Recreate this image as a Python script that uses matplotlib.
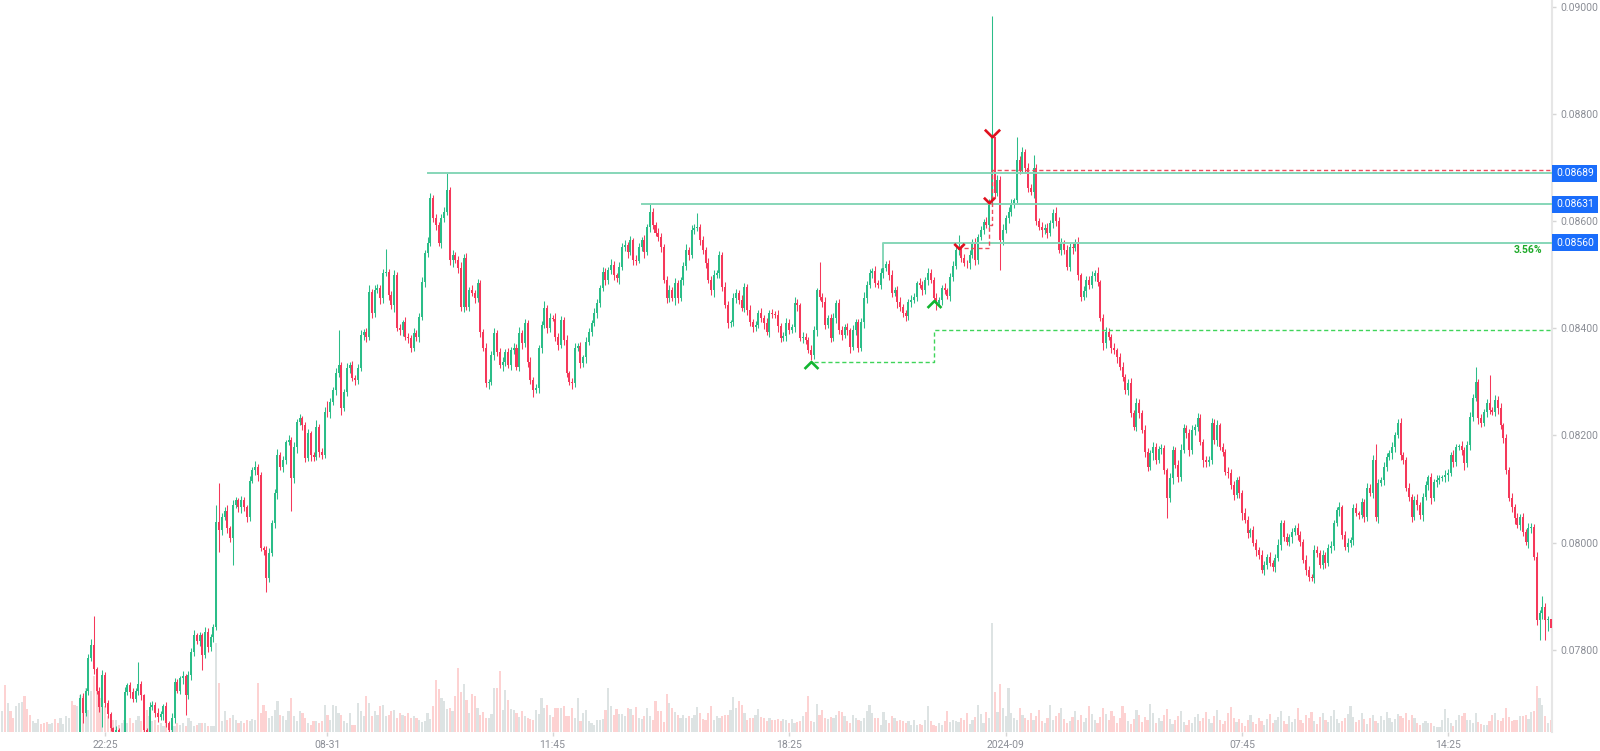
import matplotlib
matplotlib.use("Agg")
import matplotlib.pyplot as plt
from matplotlib.path import Path
from matplotlib.transforms import blended_transform_factory
import numpy as np

plt.rcParams['font.family'] = ['Roboto', 'DejaVu Sans']

# closing prices, in units of 0.00001
closes = [
    7625, 7618, 7630, 7622, 7610, 7615, 7628, 7635, 7620, 7612,
    7605, 7618, 7626, 7631, 7624, 7615, 7609, 7620, 7628, 7622,
    7614, 7618, 7625, 7633, 7640, 7636, 7628, 7642,
    7711, 7683, 7724, 7784, 7809, 7765, 7724, 7693, 7753, 7700,
    7681, 7654, 7640, 7650, 7635, 7640, 7721, 7734, 7721, 7709,
    7724, 7736, 7715, 7650, 7635, 7693, 7697, 7683, 7674, 7680,
    7695, 7663, 7650, 7672, 7740, 7724, 7747, 7751, 7715, 7753,
    7796, 7827, 7816, 7827, 7790, 7833, 7805, 7824, 7842, 8038,
    8023, 8048, 8060, 8027, 8008, 8070, 8079, 8066, 8079, 8066,
    8048, 8116, 8135, 8141, 8126, 7990, 7986, 7934, 7980, 8036,
    8092, 8163, 8141, 8154, 8187, 8191, 8120, 8178, 8225, 8232,
    8219, 8158, 8204, 8163, 8160, 8216, 8169, 8163, 8244, 8243,
    8262, 8284, 8316, 8331, 8251, 8281, 8326, 8331, 8307, 8303,
    8326, 8387, 8393, 8384, 8468, 8428, 8471, 8475, 8456, 8503,
    8505, 8462, 8443, 8499, 8400, 8396, 8411, 8384, 8382, 8363,
    8391, 8384, 8421, 8486, 8540, 8559, 8643, 8606, 8593, 8559,
    8606, 8617, 8658, 8527, 8537, 8527, 8512, 8440, 8531, 8440,
    8471, 8466, 8456, 8484, 8393, 8363, 8298, 8300, 8350, 8391,
    8356, 8331, 8337, 8356, 8331, 8359, 8363, 8328, 8391, 8372,
    8410, 8337, 8303, 8284, 8288, 8363, 8406, 8438, 8400, 8419,
    8418, 8384, 8369, 8415, 8378, 8316, 8300, 8298, 8363, 8367,
    8335, 8346, 8374, 8393, 8410, 8428, 8447, 8475, 8505, 8490,
    8508, 8518, 8499, 8494, 8514, 8552, 8555, 8542, 8564, 8527,
    8526, 8552, 8564, 8542, 8589, 8617, 8593, 8578, 8570, 8552,
    8490, 8456, 8471, 8456, 8484, 8456, 8490, 8516, 8546, 8537,
    8583, 8587, 8589, 8564, 8546, 8522, 8490, 8471, 8499, 8503,
    8537, 8477, 8443, 8410, 8411, 8456, 8466, 8452, 8438, 8477,
    8434, 8411, 8402, 8406, 8428, 8419, 8410, 8393, 8428, 8427,
    8425, 8404, 8382, 8386, 8410, 8396, 8402, 8447, 8443, 8382,
    8384, 8378, 8359, 8350, 8396, 8471, 8458, 8449, 8406, 8419,
    8382, 8419, 8447, 8396, 8387, 8402, 8396, 8365, 8396, 8411,
    8363, 8411, 8456, 8481, 8503, 8507, 8484, 8481, 8503, 8512,
    8520, 8499, 8466, 8471, 8449, 8440, 8428, 8423, 8449, 8452,
    8458, 8484, 8481, 8471, 8490, 8503, 8490, 8456, 8447, 8452,
    8475, 8471, 8460, 8496, 8516, 8546, 8550, 8531, 8522, 8521,
    8537, 8559, 8527, 8570, 8583, 8598, 8593, 8635, 8757, 8652,
    8676, 8564, 8583, 8606, 8617, 8634, 8639, 8714, 8695, 8729,
    8699, 8662, 8654, 8699, 8601, 8589, 8583, 8587, 8578, 8596,
    8615, 8601, 8546, 8559, 8546, 8514, 8552, 8550, 8561, 8499,
    8458, 8469, 8490, 8481, 8497, 8503, 8486, 8419, 8372, 8393,
    8384, 8363, 8359, 8346, 8328, 8309, 8284, 8298, 8242, 8216,
    8260, 8242, 8210, 8169, 8141, 8167, 8178, 8154, 8175, 8176,
    8135, 8083, 8120, 8172, 8145, 8122, 8172, 8214, 8204, 8172,
    8210, 8216, 8233, 8188, 8154, 8150, 8155, 8223, 8191, 8219,
    8178, 8169, 8132, 8130, 8107, 8089, 8117, 8092, 8055, 8042,
    8018, 8023, 7999, 7986, 7977, 7949, 7958, 7973, 7962, 7955,
    7971, 7996, 8036, 8010, 8001, 8011, 8020, 8027, 8014, 8001,
    7968, 7949, 7936, 7934, 7986, 7981, 7958, 7977, 7962, 7990,
    7994, 8036, 8061, 8066, 8014, 7992, 7999, 8005, 8065, 8055,
    8052, 8076, 8048, 8102, 8093, 8154, 8048, 8111, 8117, 8141,
    8160, 8167, 8178, 8201, 8223, 8163, 8154, 8102, 8085, 8048,
    8080, 8070, 8052, 8085, 8107, 8122, 8083, 8113, 8117, 8120,
    8122, 8126, 8130, 8163, 8150, 8178, 8180, 8172, 8148, 8182,
    8234, 8270, 8300, 8232, 8223, 8244, 8260, 8247, 8244, 8266,
    8251, 8219, 8195, 8135, 8083, 8066, 8046, 8033, 8048, 8020,
    8001, 8027, 8029, 7973, 7856, 7869, 7880, 7856, 7858, 7841,
]

# upper / lower wick length beyond the body, same units
wick_up = [
    2, 1, 2, 2, 1, 2, 2, 1, 2, 1, 2, 2, 1, 2, 1, 2, 2, 1, 2, 1,
    2, 2, 1, 2, 1, 2, 1, 2,
    6, 9, 5, 8, 12, 55, 4, 7, 10, 5,
    6, 4, 3, 8, 5, 7, 9, 4, 6, 8,
    5, 41, 6, 3, 4, 9, 7, 5, 8, 6,
    4, 7, 5, 10, 8, 6, 5, 9, 4, 7,
    8, 10, 5, 6, 4, 9, 7, 5, 6, 32,
    73, 8, 6, 10, 4, 9, 7, 5, 8, 6,
    4, 9, 7, 12, 5, 6, 4, 8, 10, 7,
    9, 12, 6, 8, 5, 10, 7, 9, 6, 8,
    5, 7, 9, 4, 6, 12, 5, 8, 10, 20,
    8, 6, 10, 66, 7, 5, 9, 6, 8, 5,
    7, 10, 6, 8, 12, 5, 9, 7, 6, 8,
    43, 5, 7, 9, 6, 8, 5, 10, 7, 6,
    9, 5, 8, 10, 7, 12, 9, 6, 8, 5,
    7, 10, 31, 6, 9, 5, 8, 12, 7, 10,
    6, 9, 5, 8, 7, 6, 10, 5, 8, 9,
    6, 7, 10, 5, 8, 6, 9, 7, 12, 5,
    8, 6, 10, 7, 9, 5, 8, 12, 6, 9,
    5, 10, 7, 8, 6, 9, 5, 7, 10, 6,
    8, 5, 9, 7, 6, 10, 8, 5, 9, 7,
    6, 12, 8, 5, 9, 7, 10, 6, 8, 5,
    9, 7, 6, 10, 5, 14, 8, 6, 9, 7,
    5, 8, 10, 6, 9, 7, 5, 8, 12, 6,
    9, 7, 26, 5, 8, 6, 10, 7, 9, 5,
    8, 6, 10, 7, 5, 9, 8, 6, 10, 7,
    5, 9, 7, 8, 6, 10, 5, 9, 7, 8,
    6, 10, 5, 8, 9, 7, 6, 12, 8, 5,
    9, 7, 6, 10, 8, 5, 53, 7, 9, 6,
    8, 10, 5, 7, 9, 6, 8, 5, 10, 7,
    6, 9, 12, 8, 7, 5, 10, 6, 9, 8,
    5, 7, 10, 6, 8, 9, 5, 7, 6, 10,
    8, 5, 9, 7, 6, 10, 8, 5, 9, 7,
    6, 10, 5, 8, 9, 7, 24, 6, 8, 5,
    9, 7, 10, 6, 8, 5, 9, 7, 226, 0,
    10, 8, 12, 6, 9, 7, 5, 43, 8, 10,
    6, 9, 7, 24, 8, 5, 10, 7, 9, 6,
    8, 12, 6, 9, 5, 10, 7, 8, 6, 9,
    5, 10, 8, 7, 9, 6, 12, 5, 8, 10,
    7, 6, 9, 5, 8, 10, 6, 7, 9, 5,
    10, 8, 6, 9, 7, 5, 10, 8, 6, 9,
    7, 5, 10, 8, 6, 9, 12, 7, 5, 8,
    10, 6, 9, 7, 5, 8, 6, 10, 7, 9,
    5, 8, 6, 10, 7, 9, 5, 8, 6, 10,
    7, 5, 9, 8, 6, 10, 7, 5, 9, 6,
    8, 10, 6, 7, 9, 5, 8, 6, 10, 7,
    5, 9, 8, 6, 10, 7, 5, 9, 6, 8,
    10, 7, 6, 9, 5, 8, 10, 6, 7, 9,
    5, 8, 6, 10, 7, 9, 30, 8, 6, 10,
    7, 5, 9, 6, 8, 10, 7, 5, 9, 6,
    8, 10, 6, 7, 9, 5, 8, 6, 10, 7,
    5, 9, 8, 6, 10, 7, 5, 9, 6, 8,
    10, 7, 28, 6, 9, 5, 8, 53, 6, 10,
    7, 9, 5, 8, 6, 10, 7, 9, 5, 8,
    6, 10, 7, 5, 9, 6, 20, 8, 6, 10,
]

wick_dn = [
    8, 6, 9, 5, 7, 10, 6, 8, 5, 9, 7, 6, 8, 10, 5, 7, 9, 6, 8, 5,
    7, 9, 6, 8, 10, 5, 7, 8,
    9, 20, 6, 8, 5, 10, 7, 9, 37, 6,
    8, 5, 10, 7, 9, 6, 8, 5, 10, 7,
    6, 9, 8, 5, 10, 7, 6, 9, 8, 5,
    10, 7, 6, 9, 8, 5, 7, 10, 37, 6,
    9, 7, 5, 8, 28, 6, 9, 7, 10, 5,
    41, 8, 6, 9, 7, 50, 5, 8, 10, 6,
    9, 7, 5, 8, 10, 6, 9, 26, 7, 5,
    8, 10, 6, 9, 7, 5, 60, 8, 10, 6,
    9, 7, 5, 10, 8, 6, 9, 7, 5, 8,
    10, 6, 9, 7, 12, 5, 8, 10, 6, 9,
    7, 5, 8, 10, 6, 9, 7, 5, 10, 8,
    6, 9, 7, 12, 5, 8, 10, 6, 9, 7,
    5, 8, 10, 6, 9, 7, 5, 8, 10, 6,
    9, 7, 5, 8, 12, 6, 9, 7, 10, 5,
    8, 6, 9, 7, 10, 5, 8, 12, 6, 9,
    7, 5, 10, 8, 6, 9, 7, 5, 8, 10,
    6, 9, 7, 12, 5, 8, 10, 6, 9, 7,
    5, 8, 10, 6, 9, 7, 5, 12, 8, 6,
    9, 7, 10, 5, 8, 6, 9, 7, 5, 10,
    8, 6, 9, 7, 12, 5, 8, 10, 6, 9,
    7, 5, 8, 10, 6, 9, 7, 5, 8, 10,
    6, 9, 7, 5, 12, 8, 6, 9, 7, 10,
    5, 8, 6, 9, 7, 10, 5, 8, 12, 6,
    9, 7, 5, 10, 8, 6, 9, 7, 5, 8,
    10, 6, 9, 7, 5, 8, 12, 6, 9, 7,
    5, 10, 8, 6, 9, 7, 5, 8, 10, 6,
    9, 7, 5, 9, 8, 10, 6, 9, 7, 5,
    8, 6, 10, 7, 9, 5, 8, 12, 6, 9,
    7, 5, 10, 8, 6, 9, 7, 5, 8, 10,
    6, 9, 7, 5, 12, 8, 6, 9, 7, 10,
    5, 8, 6, 9, 7, 10, 5, 4, 12, 6,
    9, 7, 5, 10, 8, 6, 9, 7, 5, 8,
    10, 6, 9, 7, 5, 8, 6, 10, 7, 9,
    5, 56, 8, 6, 9, 7, 10, 5, 8, 6,
    9, 7, 5, 10, 8, 6, 12, 7, 9, 5,
    8, 10, 6, 9, 7, 5, 8, 12, 6, 9,
    7, 5, 10, 8, 6, 9, 7, 5, 12, 8,
    6, 9, 7, 10, 5, 8, 6, 9, 7, 5,
    8, 10, 6, 9, 7, 5, 12, 8, 6, 9,
    7, 37, 8, 10, 6, 9, 7, 5, 8, 10,
    6, 9, 7, 5, 12, 8, 6, 9, 7, 10,
    5, 8, 6, 9, 7, 10, 5, 8, 12, 6,
    9, 7, 5, 10, 8, 6, 9, 7, 5, 8,
    10, 6, 9, 7, 5, 8, 12, 6, 9, 7,
    5, 10, 8, 6, 9, 7, 5, 8, 10, 6,
    9, 7, 5, 12, 8, 6, 9, 7, 10, 5,
    8, 6, 9, 7, 5, 10, 8, 12, 6, 9,
    7, 5, 10, 8, 6, 9, 7, 5, 8, 10,
    6, 9, 7, 12, 5, 8, 10, 6, 9, 7,
    5, 8, 10, 6, 9, 7, 5, 8, 12, 6,
    9, 7, 5, 10, 8, 6, 9, 7, 5, 8,
    10, 6, 9, 7, 5, 8, 12, 6, 9, 7,
    5, 10, 8, 6, 9, 38, 12, 38, 20, 10,
]

volumes = [
    21, 47, 29, 21, 14, 26, 29, 30, 36, 23, 17, 11, 9, 13, 8, 9, 10, 8, 9, 13,
    9, 14, 8, 16, 14, 31, 27, 26, 37, 36, 44, 22, 41, 56, 42, 34, 29, 26, 16, 14,
    12, 12, 7, 9, 12, 9, 14, 9, 12, 16, 11, 17, 22, 16, 11, 12, 7, 9, 6, 9,
    9, 6, 6, 9, 7, 9, 6, 14, 11, 6, 7, 9, 9, 9, 6, 6, 6,
    89, 49, 11, 21, 12, 14, 17, 12, 9, 11, 9, 12, 11, 13, 12, 49, 19, 27, 21, 14,
    16, 22, 31, 17, 16, 12, 21, 34, 16, 11, 21, 19, 14, 9, 7, 11, 11, 9, 11, 27,
    17, 12, 27, 26, 19, 17, 11, 9, 19, 7, 7, 29, 21, 16, 36, 29, 16, 21, 17, 26,
    27, 16, 17, 21, 22, 14, 19,
    17, 16, 19, 14, 16, 14, 12, 10, 11, 19, 13, 26, 52, 43, 34, 31, 23, 24, 21, 36, 64, 40,
    48, 32, 19, 38, 36, 24, 17, 20, 14, 14, 18, 44, 44, 61, 22, 42, 32, 23, 22, 19, 15, 21,
    16, 14, 13, 12, 22, 18, 34, 24, 27, 17, 15, 24, 24, 24, 26, 16, 16, 24, 14, 34, 11, 19,
    22, 11, 9, 7, 12, 12, 13, 22, 44, 26, 17, 23, 18, 18, 16, 24, 23, 17, 25, 14, 13, 16,
    24, 16, 12, 31, 21, 21, 10, 38, 29, 24, 20, 17, 14, 17, 14, 16, 14, 17, 25, 19, 13, 12,
    19, 26, 12, 16, 14, 16, 17, 17, 22, 35, 24, 31, 27, 19, 12, 14, 14, 17, 23, 15, 14, 11,
    14, 12, 12, 13, 11, 13, 12, 9, 13, 9, 10, 11, 16, 20, 36, 11, 10, 28, 17, 22, 14, 13,
    15, 14, 17, 21, 20, 16, 11, 9, 17, 14, 12, 11, 14, 21, 27, 19, 14, 14, 7, 20, 12, 9,
    16, 14, 11, 12, 11, 9, 11, 7, 12, 7, 8, 7, 12, 26, 11, 7, 6, 9, 7, 11, 21, 10,
    12, 11, 10, 14, 12, 19, 8, 12, 15, 27, 18, 9, 20, 14,
    109,
    40, 20, 48, 24, 16, 44, 19, 14, 12, 24, 17, 14, 12,
    19, 12, 16, 22, 11, 9, 14, 27, 12, 16, 19, 24, 13, 9, 11, 15, 21, 12, 17, 10,
    14, 26, 18, 12, 9, 15,
    24, 18, 12, 21, 16, 9, 14, 26, 19, 11, 8, 13, 22, 17, 10, 15, 12, 28, 19, 9,
    14, 11, 17, 23, 13, 8, 12, 16, 21, 10, 7, 12, 9, 15, 18, 11, 14, 20, 13, 9,
    16, 22, 12, 8, 11, 19, 25, 14, 10, 13, 9, 6, 12, 17, 10, 8, 14, 11, 7, 13,
    18, 9, 12, 15, 21, 11, 8, 16, 10, 13, 24, 12, 9, 17, 14, 20, 11, 8, 15, 19,
    12, 10, 16, 22, 13, 9, 11, 14, 18, 26, 15, 10, 12, 19, 13, 8, 14, 17, 11, 9,
    16, 12, 20, 14, 10, 13, 18,
    16, 14, 19, 12, 17, 14, 9, 7, 9, 11, 9, 9, 6, 5, 5, 12, 23, 14, 9, 6,
    12, 17, 16, 19, 12, 12, 9, 19, 10, 8, 7, 7, 11, 17, 19, 12, 11, 14, 24, 15,
    11, 12, 12, 16, 16, 17, 13, 20, 21, 46, 34, 27, 16, 9, 12,
]

price_ticks = [0.078, 0.080, 0.082, 0.084, 0.086, 0.088, 0.090]
time_pos = [37, 117, 198, 283, 361, 446, 520]
time_labels = ['22:25', '08-31', '11:45', '18:25', '2024-09', '07:45', '14:25']

# horizontal levels (price, first candle)
level_prices = [8689, 8631, 8560]
level_start = [153, 230, 317]
level_base = 8515          # foot of the step into the last level
pct_label = '3.56%'
pct_price = 8547

# dashed step lines
red_step_x = [346, 355, 355, 356, 356]
red_step_p = [8549, 8549, 8592, 8592, 8695]
green_step_x = [292, 335, 335]
green_step_p = [8338, 8338, 8396]

# signal markers
sell_idx = [344, 355, 356]
sell_price = [8554, 8639, 8764]
buy_idx = [291, 335]
buy_price = [8331, 8445]

n = len(closes)
print(n, len(wick_up), len(wick_dn), len(volumes))

c = np.array(closes) / 1e5
o = np.r_[c[0], c[:-1]]
hi = np.maximum(o, c) + np.array(wick_up) / 1e5
lo = np.minimum(o, c) - np.array(wick_dn) / 1e5
x = np.arange(n)
up = c >= o

UP, DOWN = '#2bbd88', '#f5385a'
col = np.where(up, UP, DOWN)

fig = plt.figure(figsize=(16, 7.51), dpi=100)
rect = [0, 19 / 751, 1552 / 1600, 732 / 751]
axv = fig.add_axes(rect)
ax = fig.add_axes(rect, sharex=axv)

axv.bar(x, volumes, width=0.78, color=np.where(up, '#dde3e3', '#fdd2d2'), linewidth=0)
axv.set_ylim(0, 732)
axv.axis('off')
ax.patch.set_visible(False)

ax.vlines(x, lo, hi, colors=col, lw=0.75, zorder=2)
ax.bar(x, np.maximum(np.abs(c - o), 1.2e-5), bottom=np.minimum(o, c), width=0.72,
       color=col, linewidth=0, zorder=3)

xmin, xmax = -0.79, 557.48
ax.set_xlim(xmin, xmax)
ax.set_ylim(0.076468, 0.090125)

# levels
for p, s in zip(level_prices, level_start):
    if p == level_prices[-1]:
        ax.plot([s, s, xmax], [level_base / 1e5, p / 1e5, p / 1e5], color='#86d6b8', lw=1.4, zorder=4)
    else:
        ax.plot([s, xmax], [p / 1e5, p / 1e5], color='#86d6b8', lw=1.4, zorder=4)

ax.plot(red_step_x + [xmax], [p / 1e5 for p in red_step_p + [red_step_p[-1]]],
        color='#ee4b5b', lw=1, ls=(0, (3, 2)), zorder=4)
ax.plot(green_step_x + [xmax], [p / 1e5 for p in green_step_p + [green_step_p[-1]]],
        color='#3fd45a', lw=1, ls=(0, (3, 2)), zorder=4)

chev_dn = Path([(-1, 0.5), (0, -0.5), (1, 0.5)], [Path.MOVETO, Path.LINETO, Path.LINETO])
chev_up = Path([(-1, -0.5), (0, 0.5), (1, -0.5)], [Path.MOVETO, Path.LINETO, Path.LINETO])
for i, p, ms in zip(sell_idx, sell_price, [7.5, 8, 11]):
    ax.plot(i, p / 1e5, marker=chev_dn, ms=ms, mec='#e0101e', mfc='none', mew=1.9, ls='none', zorder=6)
for i, p in zip(buy_idx, buy_price):
    ax.plot(i, p / 1e5, marker=chev_up, ms=10, mec='#12b530', mfc='none', mew=1.9, ls='none', zorder=6)

ax.text(554, pct_price / 1e5, pct_label, ha='right', va='center', color='#1faa2a',
        fontsize=7.5, fontweight='bold', zorder=6)

# axes styling
for s in ['top', 'left', 'bottom']:
    ax.spines[s].set_visible(False)
ax.spines['right'].set_color('#e6e6e6')
ax.spines['right'].set_linewidth(1.5)
ax.yaxis.tick_right()
ax.set_yticks(price_ticks)
ax.set_yticklabels([f'{p:.5f}' for p in price_ticks])
ax.tick_params(axis='y', length=3, width=1, color='#d6d6d6', pad=3,
               labelsize=7.5, labelcolor='#8b8e96')
ax.set_xticks(time_pos)
ax.set_xticklabels(time_labels)
ax.tick_params(axis='x', length=3, width=1, color='#d6d6d6', pad=3,
               labelsize=7.5, labelcolor='#8b8e96')

trans = blended_transform_factory(ax.transAxes, ax.transData)
for p in level_prices:
    ax.text(1.0 + 4 / 1552, p / 1e5, f'{p / 1e5:.5f}', transform=trans, ha='left', va='center',
            color='white', fontsize=7.5, clip_on=False, zorder=10,
            bbox=dict(boxstyle='square,pad=0.35', fc='#1a6dfb', ec='none'))

fig.savefig('out.png', dpi=100)
